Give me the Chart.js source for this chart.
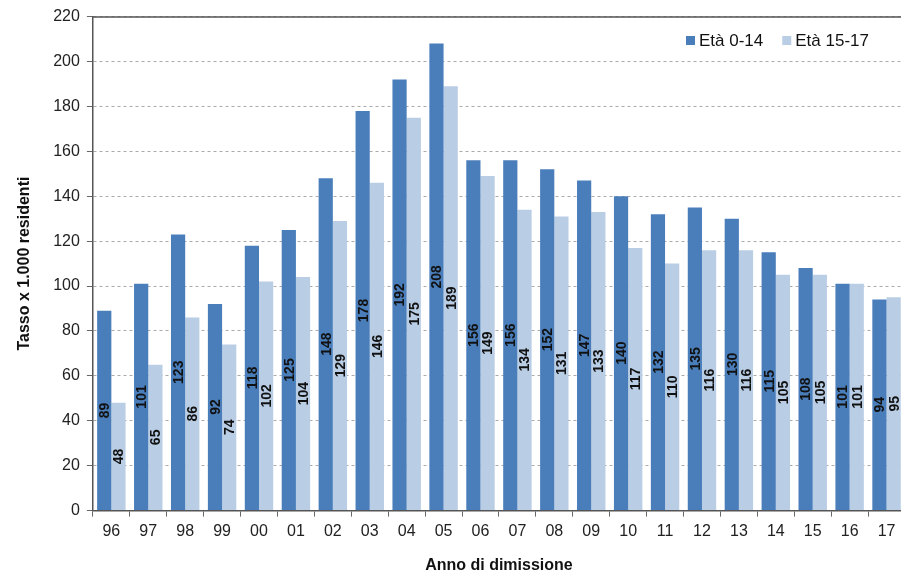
<!DOCTYPE html>
<html>
<head>
<meta charset="utf-8">
<script src="https://cdn.jsdelivr.net/npm/chart.js@4/dist/chart.umd.min.js"></script>
<style>
  html, body { margin: 0; padding: 0; background: #fff; overflow: hidden; }
  #wrap { width: 901px; height: 575px; overflow: hidden; }
</style>
</head>
<body>
<div id="wrap"><canvas id="c" width="905" height="575"></canvas></div>
<script>
const years = ['96','97','98','99','00','01','02','03','04','05','06','07','08','09','10','11','12','13','14','15','16','17'];
const eta0_14 = [89,101,123,92,118,125,148,178,192,208,156,156,152,147,140,132,135,130,115,108,101,94];
const eta15_17 = [48,65,86,74,102,104,129,146,175,189,149,134,131,133,117,110,116,116,105,105,101,95];

// value labels, rotated, centred in each bar
const barLabels = {
  id: 'barLabels',
  afterDatasetsDraw(chart) {
    const ctx = chart.ctx;
    ctx.save();
    ctx.font = 'bold 14px "Liberation Sans", Arial, sans-serif';
    ctx.fillStyle = '#111';
    ctx.textAlign = 'center';
    ctx.textBaseline = 'middle';
    chart.data.datasets.forEach((ds, i) => {
      chart.getDatasetMeta(i).data.forEach((bar, j) => {
        const cy = (bar.y + bar.base) / 2;
        ctx.save();
        ctx.translate(bar.x, cy);
        ctx.rotate(-Math.PI / 2);
        ctx.fillText(String(ds.data[j]), 0, 1);
        ctx.restore();
      });
    });
    ctx.restore();
  }
};

// solid frame line at the top of the plot
const topLine = {
  id: 'topLine',
  beforeDatasetsDraw(chart) {
    const a = chart.chartArea, ctx = chart.ctx;
    ctx.save();
    ctx.strokeStyle = '#555';
    ctx.lineWidth = 1.5;
    ctx.beginPath();
    ctx.moveTo(a.left, a.top + 0.5);
    ctx.lineTo(a.right, a.top + 0.5);
    ctx.stroke();
    ctx.restore();
  }
};

// legend inside the plot, top right
const innerLegend = {
  id: 'innerLegend',
  afterDraw(chart) {
    const ctx = chart.ctx;
    ctx.save();
    ctx.font = '17px "Liberation Sans", Arial, sans-serif';
    ctx.textBaseline = 'middle';
    ctx.textAlign = 'left';
    let x = 686;
    const y = 41;
    chart.data.datasets.forEach(ds => {
      ctx.fillStyle = ds.backgroundColor;
      ctx.fillRect(x, y - 5, 9, 9);
      ctx.fillStyle = '#111';
      ctx.fillText(ds.label, x + 13, y);
      x += 13 + ctx.measureText(ds.label).width + 19;
    });
    ctx.restore();
  }
};

Chart.defaults.font.family = '"Liberation Sans", Arial, sans-serif';
Chart.defaults.color = '#222';

new Chart(document.getElementById('c'), {
  type: 'bar',
  data: {
    labels: years,
    datasets: [
      { label: 'Età 0-14', data: eta0_14, backgroundColor: '#4a7ebb', categoryPercentage: 0.77, barPercentage: 1.0 },
      { label: 'Età 15-17', data: eta15_17, backgroundColor: '#b9cde5', categoryPercentage: 0.77, barPercentage: 1.0 }
    ]
  },
  options: {
    responsive: false,
    animation: false,
    layout: { padding: { top: 8, left: 15, right: 0, bottom: 0 } },
    plugins: {
      legend: { display: false },
      tooltip: { enabled: false }
    },
    scales: {
      x: {
        grid: { drawOnChartArea: false, drawTicks: true, tickLength: 6, color: '#666', offset: true },
        border: { color: '#555', width: 1.5 },
        ticks: { font: { size: 16 }, color: '#222', maxRotation: 0, padding: 5 },
        title: { display: true, text: 'Anno di dimissione', font: { size: 16, weight: 'bold' }, color: '#111', padding: { top: 10, bottom: 0 } }
      },
      y: {
        min: 0, max: 220,
        ticks: { stepSize: 20, font: { size: 16 }, color: '#222', padding: 7 },
        grid: { color: '#aaa', tickLength: 6, tickColor: '#666' },
        border: { color: '#555', width: 1.5, dash: [3, 3] },
        title: { display: true, text: 'Tasso x 1.000 residenti', font: { size: 16, weight: 'bold' }, color: '#111', padding: { top: 0, bottom: 12 } }
      }
    }
  },
  plugins: [barLabels, topLine, innerLegend]
});
</script>
</body>
</html>
